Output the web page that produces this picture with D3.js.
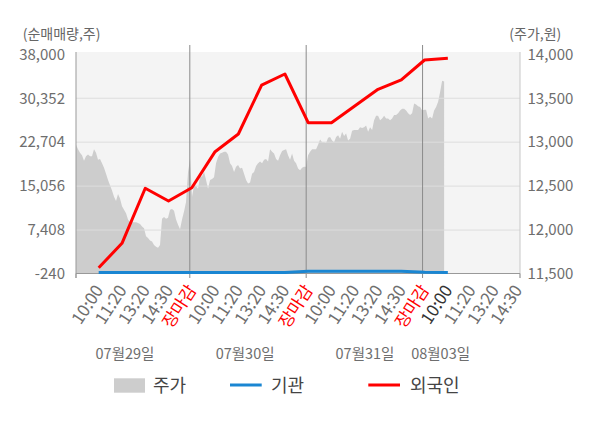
<!DOCTYPE html>
<html><head><meta charset="utf-8">
<script src="https://cdn.jsdelivr.net/npm/d3@7"></script>
<style>
body{margin:0;background:#fff}
svg{display:block}
text{font-family:"Noto Sans CJK KR","Noto Sans",sans-serif}
</style>
</head><body>
<svg id="c" width="600" height="428"></svg>
<script>
// ---- data ----
const xLabels = ["10:00","11:20","13:20","14:30","장마감",
                 "10:00","11:20","13:20","14:30","장마감",
                 "10:00","11:20","13:20","14:30","장마감",
                 "10:00","11:20","13:20","14:30"];
const dayEndIdx = [4, 9, 14];
const currentIdx = 15;
const dateLabels = ["07월29일","07월30일","07월31일","08월03일"];
const dateLabelIdx = [1.13, 6.29, 11.44, 14.69];
const leftTicks = [-240, 7408, 15056, 22704, 30352, 38000];
const rightTicks = [11500, 12000, 12500, 13000, 13500, 14000];
const foreignNet = [850, 5100, 14680, 12470, 14780, 21050, 24130, 32650, 34570, 26090,
                    26090, 29000, 31910, 33530, 37010, 37300];
const institutionNet = [0, 0, 0, 0, 0, 0, 0, 0, 0, 250, 260, 260, 260, 250, 80, 0];
// stock price samples (evenly spaced in time from the first open to the last sample)
const priceStartIdx = -0.975, priceEndIdx = 14.84;
const price = [
12970,12920,12880,12850,12790,12840,12860,12840,12840,12920,12880,12800,12810,12760,12710,12640,
12570,12510,12450,12380,12330,12410,12360,12270,12230,12190,12120,12090,12090,12090,12090,12080,
12070,12040,12020,11930,11910,11880,11870,11830,11810,11800,11830,12130,12150,12130,12140,12230,
12240,12220,12120,12060,12010,12120,12210,12320,12660,12810,
12380,12510,12500,12470,12610,12610,12660,12570,12470,12570,12580,12600,12760,12830,12870,12880,
12890,12890,12860,12760,12730,12660,12720,12740,12700,12710,12640,12570,12530,12540,12640,12660,
12730,12760,12780,12760,12800,12810,12780,12920,12890,12870,12810,12790,12850,12900,12910,12920,
12850,12800,12870,12790,12760,12700,12680,12710,12720,12720,
12850,12890,12920,12920,12920,12970,13030,13000,13000,12990,13050,13060,13020,13000,13060,13080,
13040,13120,13070,13100,13020,13040,13130,13140,13140,13140,13170,13160,13170,13190,13120,13170,
13140,13250,13300,13300,13250,13270,13300,13270,13270,13250,13270,13310,13310,13330,13360,13380,
13380,13360,13330,13310,13330,13440,13430,13410,13400,13360,
13370,13370,13270,13290,13270,13360,13400,13460,13570,13700,13690];

// ---- layout ----
const FONT = '"Noto Sans CJK KR","Noto Sans",sans-serif';
const svg = d3.select("#c");
const L = 76, R = 520, T = 54.3, B = 274;
const x = d3.scaleLinear().domain([-0.975, 18.1]).range([L, R]);
const yL = d3.scaleLinear().domain([-240, 38000]).range([B, T]);
const yR = d3.scaleLinear().domain([11500, 14000]).range([B, T]);
const pIdx = d3.scaleLinear().domain([0, price.length - 1]).range([priceStartIdx, priceEndIdx]);
const fmt = d => d3.format(",")(d).replace("\u2212", "-");

// background
svg.append("rect").attr("x", L).attr("y", 52).attr("width", R - L).attr("height", B - 52).attr("fill", "#f4f4f4");

// price area
svg.append("path").datum(price)
  .attr("fill", "#cdcdcd")
  .attr("d", d3.area().x((d, i) => x(pIdx(i))).y0(B).y1(d => yR(d)));

// gridlines
svg.append("g").selectAll("line").data(leftTicks.slice(1, -1)).join("line")
  .attr("x1", L).attr("x2", R).attr("y1", d => yL(d)).attr("y2", d => yL(d))
  .attr("stroke", "#dddddd").attr("stroke-width", 1);

// day separators
svg.append("g").selectAll("line").data(dayEndIdx).join("line")
  .attr("x1", d => x(d) - 2).attr("x2", d => x(d) - 2).attr("y1", 45).attr("y2", 278)
  .attr("stroke", "#8a8a8a").attr("stroke-width", 1);

// axis frame lines
svg.append("line").attr("x1", L).attr("x2", L).attr("y1", 52).attr("y2", 278).attr("stroke", "#999");
svg.append("line").attr("x1", R).attr("x2", R).attr("y1", 52).attr("y2", 278).attr("stroke", "#c8c8c8");
svg.append("line").attr("x1", L).attr("x2", R).attr("y1", 273.5).attr("y2", 273.5).attr("stroke", "#999");

// y axes
const gl = svg.append("g").attr("transform", `translate(${L},0)`)
  .call(d3.axisLeft(yL).tickValues(leftTicks).tickFormat(fmt).tickSize(0).tickPadding(11));
const gr = svg.append("g").attr("transform", `translate(${R},0)`)
  .call(d3.axisRight(yR).tickValues(rightTicks).tickFormat(fmt).tickSize(0).tickPadding(7.5));
[gl, gr].forEach(g => {
  g.select(".domain").remove();
  g.selectAll("text").attr("fill", "#6e6e6e").style("font-size", "15px").style("font-family", FONT);
});

// x axis labels
const gx = svg.append("g").attr("transform", `translate(0,${B})`)
  .call(d3.axisBottom(x).tickValues(d3.range(xLabels.length)).tickFormat(i => xLabels[i]).tickSize(0));
gx.select(".domain").remove();
gx.selectAll("text")
  .style("font-size", "17px").style("font-family", FONT)
  .attr("text-anchor", "end").attr("dy", 0).attr("y", 0)
  .attr("transform", "translate(4.8,16) rotate(-57)")
  .attr("fill", (d) => xLabels[d] === "장마감" ? "#ff0000" : (d === currentIdx ? "#333333" : "#6e6e6e"));

// x tick marks at the plot edges
svg.append("g").selectAll("line").data([L, R]).join("line")
  .attr("x1", d => d).attr("x2", d => d).attr("y1", 273.5).attr("y2", 278).attr("stroke", "#999");

// date labels
svg.append("g").selectAll("text").data(dateLabels).join("text")
  .attr("x", (d, i) => x(dateLabelIdx[i])).attr("y", 358.5)
  .attr("text-anchor", "middle").attr("fill", "#6e6e6e").style("font-size", "14.5px").text(d => d);

// lines
svg.append("path").datum(institutionNet).attr("fill", "none").attr("stroke", "#1a86d2").attr("stroke-width", 3)
  .attr("d", d3.line().x((d, i) => x(i)).y(d => yL(d)));
svg.append("path").datum(foreignNet).attr("fill", "none").attr("stroke", "#ff0000").attr("stroke-width", 3)
  .attr("stroke-linejoin", "round")
  .attr("d", d3.line().x((d, i) => x(i)).y(d => yL(d)));

// axis titles
svg.append("text").attr("x", 22.7).attr("y", 39).attr("fill", "#666").style("font-size", "14px").text("(순매매량,주)");
svg.append("text").attr("x", 509.3).attr("y", 39).attr("fill", "#666").style("font-size", "14px").text("(주가,원)");

// legend
const lg = svg.append("g");
lg.append("rect").attr("x", 114).attr("y", 378.3).attr("width", 31).attr("height", 14.4).attr("fill", "#cdcdcd");
lg.append("text").attr("x", 153).attr("y", 392.3).attr("fill", "#444").style("font-size", "18px").text("주가");
lg.append("line").attr("x1", 230).attr("x2", 261.7).attr("y1", 385).attr("y2", 385).attr("stroke", "#1a86d2").attr("stroke-width", 3);
lg.append("text").attr("x", 271).attr("y", 392.3).attr("fill", "#444").style("font-size", "18px").text("기관");
lg.append("line").attr("x1", 368.3).attr("x2", 400).attr("y1", 385).attr("y2", 385).attr("stroke", "#ff0000").attr("stroke-width", 3);
lg.append("text").attr("x", 410).attr("y", 392.3).attr("fill", "#444").style("font-size", "18px").text("외국인");
</script>
</body></html>
